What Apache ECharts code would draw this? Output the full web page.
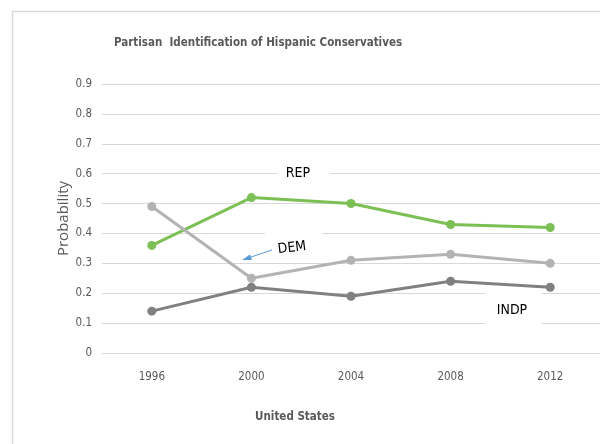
<!DOCTYPE html>
<html>
<head>
<meta charset="utf-8">
<script src="https://cdn.jsdelivr.net/npm/echarts@6/dist/echarts.min.js"></script>
<style>
  html, body { margin: 0; padding: 0; background: #fff; }
  #chart { width: 600px; height: 444px; }
</style>
</head>
<body>
<div id="chart"></div>
<script>
// Election years on the x axis
const years = ['1996', '2000', '2004', '2008', '2012'];

// Probability of identifying with each party
const repValues = [0.36, 0.52, 0.50, 0.43, 0.42];
const demValues = [0.49, 0.25, 0.31, 0.33, 0.30];
const indpValues = [0.14, 0.22, 0.19, 0.24, 0.22];

const FONT = "'DejaVu Sans Condensed', 'Liberation Sans Narrow', 'Liberation Sans', sans-serif";
const TEXT = '#595959';

const chart = echarts.init(document.getElementById('chart'), null, { renderer: 'canvas' });

function lineSeries(name, data, color) {
  return {
    name: name,
    type: 'line',
    data: data,
    symbol: 'circle',
    symbolSize: 9,
    lineStyle: { color: color, width: 3 },
    itemStyle: { color: color },
    z: 3
  };
}

chart.setOption({
  animation: false,
  backgroundColor: '#fff',
  grid: { left: 102, top: 84, width: 500, height: 269 },
  xAxis: {
    type: 'category',
    data: years,
    boundaryGap: true,
    axisLine: { show: true, lineStyle: { color: '#d9d9d9', width: 1 } },
    axisTick: { show: false },
    axisLabel: { fontFamily: FONT, fontSize: 11.5, color: TEXT, margin: 18 }
  },
  yAxis: {
    type: 'value',
    min: 0,
    max: 0.9,
    interval: 0.1,
    name: 'Probability',
    nameLocation: 'middle',
    nameGap: 31,
    nameMoveOverlap: false,
    nameTextStyle: { fontFamily: "'Open Sans', sans-serif", fontSize: 15, color: TEXT },
    axisLine: { show: false },
    axisTick: { show: false },
    axisLabel: {
      fontFamily: FONT, fontSize: 11.5, color: TEXT, margin: 10,
      formatter: v => (v === 0 ? '0' : v.toFixed(1))
    },
    splitLine: { lineStyle: { color: '#d9d9d9', width: 1 } }
  },
  series: [
    lineSeries('REP', repValues, '#7cbf55'),
    lineSeries('DEM', demValues, '#b3b3b3'),
    lineSeries('INDP', indpValues, '#808080')
  ],
  graphic: [
    // outer chart frame
    {
      type: 'rect', z: -1, silent: true,
      shape: { x: 12.5, y: 11.5, width: 620, height: 460 },
      style: { fill: null, stroke: '#d9d9d9', lineWidth: 1.5 }
    },
    // chart title
    {
      type: 'text', z: 4, x: 258, y: 43,
      style: {
        text: 'Partisan  Identification of Hispanic Conservatives',
        fontFamily: FONT, fontSize: 11.5, fontWeight: 'bold', fill: TEXT,
        align: 'center', verticalAlign: 'middle'
      }
    },
    // x axis title
    {
      type: 'text', z: 4, x: 295, y: 417,
      style: {
        text: 'United States',
        fontFamily: FONT, fontSize: 11.5, fontWeight: 'bold', fill: TEXT,
        align: 'center', verticalAlign: 'middle'
      }
    },
    // party annotations
    {
      type: 'rect', z: 2,
      shape: { x: 277, y: 160, width: 53, height: 26 },
      style: { fill: '#fff' }
    },
    {
      type: 'text', z: 4, x: 298, y: 173,
      style: { text: 'REP', fontFamily: FONT, fontSize: 14, fill: '#000', align: 'center', verticalAlign: 'middle' }
    },
    {
      type: 'rect', z: 2,
      shape: { x: 265, y: 228, width: 57, height: 30 },
      style: { fill: '#fff' }
    },
    {
      type: 'text', z: 4, x: 292, y: 248, rotation: 0.12,
      style: { text: 'DEM', fontFamily: FONT, fontSize: 14, fill: '#000', align: 'center', verticalAlign: 'middle' }
    },
    {
      type: 'line', z: 4,
      shape: { x1: 272, y1: 250, x2: 248, y2: 258 },
      style: { stroke: '#5b9bd5', lineWidth: 1 }
    },
    {
      type: 'polygon', z: 4,
      shape: { points: [[242, 260], [250, 254.5], [252, 260]] },
      style: { fill: '#5b9bd5' }
    },
    {
      type: 'rect', z: 2,
      shape: { x: 485, y: 290, width: 57, height: 36 },
      style: { fill: '#fff' }
    },
    {
      type: 'text', z: 4, x: 512, y: 310,
      style: { text: 'INDP', fontFamily: FONT, fontSize: 14, fill: '#000', align: 'center', verticalAlign: 'middle' }
    }
  ]
});
</script>
</body>
</html>
